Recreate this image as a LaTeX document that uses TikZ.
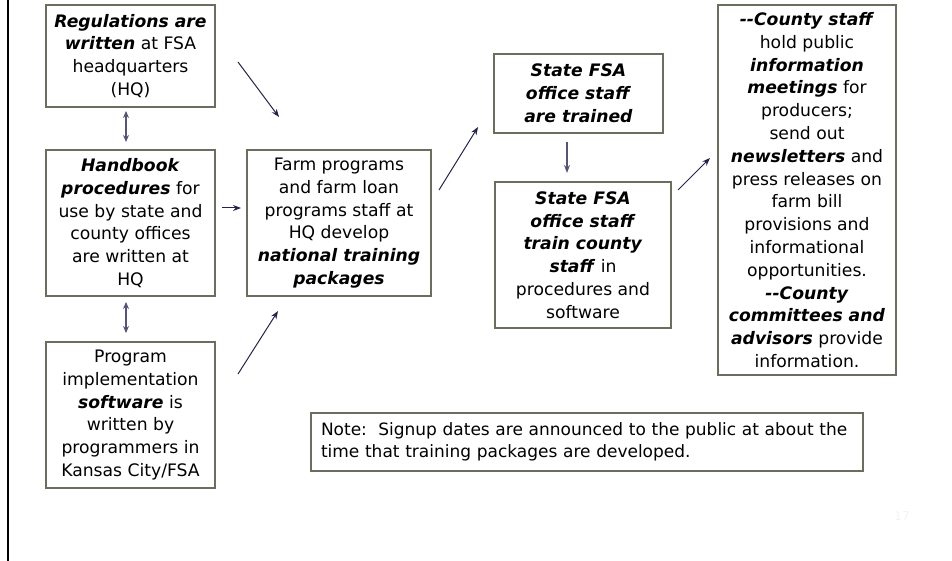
\documentclass[tikz,border=0pt]{standalone}
\usepackage{fontspec}
\setmainfont{DejaVu Sans}
\usetikzlibrary{arrows.meta}
\newcommand{\bfit}[1]{\textbf{\textit{#1}}}
\definecolor{boxline}{RGB}{107,110,94}
\definecolor{arrowc}{RGB}{35,35,75}
\definecolor{dblc}{RGB}{85,85,115}
\definecolor{pagenum}{RGB}{242,242,242}
\tikzset{
  stepbox/.style={draw=boxline, line width=2pt, fill=white, inner sep=0pt, align=center,
    font=\fontsize{17.2}{22.8}\selectfont, text=black},
  flowarrow/.style={draw=arrowc, line width=1pt, -{Stealth[length=8pt,width=6pt]}},
  dblarrow/.style={draw=dblc, line width=1.6pt, {Stealth[length=7pt,width=6pt,fill=arrowc]}-{Stealth[length=7pt,width=6pt,fill=arrowc]}},
}
\begin{document}
\begin{tikzpicture}[x=1pt,y=-1pt]
\useasboundingbox (0,0) rectangle (952,561);
\draw[line width=2.5pt, black] (8,0) -- (8,561);

\node[stepbox, minimum width=169pt, minimum height=102pt] (reg) at (130.5,56)
  {\bfit{Regulations are}\\ \bfit{written} at FSA\\ headquarters\\ (HQ)};
\node[stepbox, minimum width=169pt, minimum height=146pt] (hb) at (130.5,223)
  {\bfit{Handbook}\\ \bfit{procedures} for\\ use by state and\\ county offices\\ are written at\\ HQ};
\node[stepbox, minimum width=169pt, minimum height=146pt] (prog) at (130.5,415)
  {Program\\ implementation\\ \bfit{software} is\\ written by\\ programmers in\\ Kansas City/FSA};
\node[stepbox, minimum width=184pt, minimum height=146pt] (farm) at (339,223)
  {Farm programs\\ and farm loan\\ programs staff at\\ HQ develop\\ \bfit{national training}\\ \bfit{packages}};
\node[stepbox, minimum width=169pt, minimum height=79pt] (st1) at (578.5,93.5)
  {\bfit{State FSA}\\ \bfit{office staff}\\ \bfit{are trained}};
\node[stepbox, minimum width=176pt, minimum height=146pt] (st2) at (583,255)
  {\bfit{State FSA}\\ \bfit{office staff}\\ \bfit{train county}\\ \bfit{staff} in\\ procedures and\\ software};
\node[stepbox, minimum width=178pt, minimum height=370pt] (county) at (807,190)
  {\bfit{-{}-County staff}\\ hold public\\ \bfit{information}\\ \bfit{meetings} for\\ producers;\\ send out\\ \bfit{newsletters} and\\ press releases on\\ farm bill\\ provisions and\\ informational\\ opportunities.\\ \bfit{-{}-County}\\ \bfit{committees and}\\ \bfit{advisors} provide\\ information.};
\node[stepbox, minimum width=552pt, minimum height=58pt, align=left, text width=532pt, inner xsep=10pt, font=\fontsize{17}{22}\selectfont] (note) at (587,442)
  {Note:\ \ Signup dates are announced to the public at about the\\ time that training packages are developed.};

\node[text=pagenum, font=\fontsize{12}{14}\selectfont] (pg) at (902,516) {17};

% arrow end points
\coordinate (a1s) at (126,111); \coordinate (a1e) at (126,142);
\coordinate (a2s) at (126,302); \coordinate (a2e) at (126,333);
\coordinate (a3s) at (222,208); \coordinate (a3e) at (241,208);
\coordinate (a4s) at (238,62);  \coordinate (a4e) at (279,117);
\coordinate (a5s) at (238,374); \coordinate (a5e) at (278,311);
\coordinate (a6s) at (439,190); \coordinate (a6e) at (478,127);
\coordinate (a7s) at (567,142); \coordinate (a7e) at (567,173);
\coordinate (a8s) at (678,190); \coordinate (a8e) at (710,158);

\draw[dblarrow] (a1s) -- (a1e);
\draw[dblarrow] (a2s) -- (a2e);
\draw[flowarrow] (a3s) -- (a3e);
\draw[flowarrow] (a4s) -- (a4e);
\draw[flowarrow] (a5s) -- (a5e);
\draw[flowarrow] (a6s) -- (a6e);
\draw[flowarrow, draw=dblc, line width=1.4pt] (a7s) -- (a7e);
\draw[flowarrow] (a8s) -- (a8e);
\end{tikzpicture}
\end{document}
